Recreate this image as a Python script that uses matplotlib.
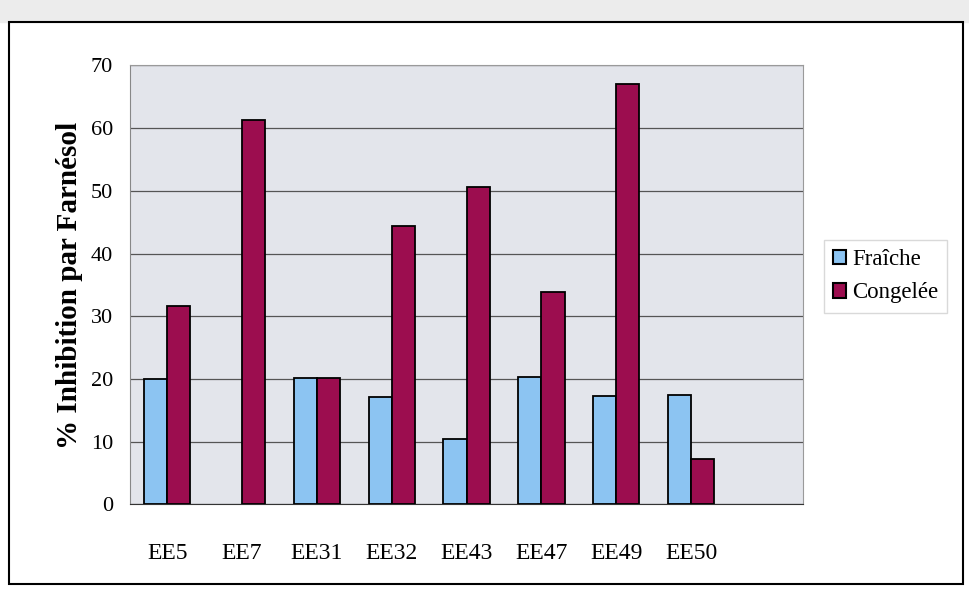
import numpy as np
import matplotlib.pyplot as plt
from matplotlib.patches import Rectangle

# Souches testées (la dernière case reste vide, comme dans Excel)
souches = ['EE5', 'EE7', 'EE31', 'EE32', 'EE43', 'EE47', 'EE49', 'EE50', '']
fraiche = [20.0, np.nan, 20.2, 17.1, 10.4, 20.4, 17.3, 17.5, np.nan]
congelee = [31.6, 61.3, 20.2, 44.4, 50.6, 33.9, 67.0, 7.2, np.nan]

plt.rcParams['font.family'] = ['Liberation Serif', 'DejaVu Serif']

fig = plt.figure(figsize=(9.69, 5.9), dpi=100)
ax = fig.add_axes([0.134, 0.145, 0.695, 0.744])

# bande grise en haut et cadre extérieur du graphique
fig.patches.append(Rectangle((0, 0.962), 1, 0.038, transform=fig.transFigure,
                             color='#ececec', zorder=0))
fig.patches.append(Rectangle((0.009, 0.01), 0.985, 0.952, transform=fig.transFigure,
                             fill=False, edgecolor='black', linewidth=1.5))

x = np.arange(len(souches))
w = 0.31
ax.bar(x - w / 2, fraiche, w, color='#8cc4f2', edgecolor='black', linewidth=1.3,
       label='Fraîche', zorder=3)
ax.bar(x + w / 2, congelee, w, color='#9c0d4f', edgecolor='black', linewidth=1.3,
       label='Congelée', zorder=3)

ax.set_facecolor('#e3e5eb')
ax.set_xlim(-0.5, len(souches) - 0.5)
ax.set_ylim(0, 70)
ax.set_yticks(range(0, 71, 10))
ax.set_xticks(x)
ax.set_xticklabels(souches, fontsize=17)
ax.tick_params(axis='both', length=0)
ax.tick_params(axis='y', pad=12, labelsize=16)
ax.tick_params(axis='x', pad=28)
ax.grid(axis='y', color='#555555', linewidth=0.9, zorder=1)
for side in ['top', 'right']:
    ax.spines[side].set_color('#9a9a9a')
    ax.spines[side].set_linewidth(0.8)
ax.spines['left'].set_color('#888888')
ax.spines['bottom'].set_color('#333333')

ax.set_ylabel('% Inhibition par Farnésol', fontsize=21, fontweight='bold', labelpad=6)

leg = ax.legend(loc='center left', bbox_to_anchor=(1.03, 0.52),
                prop={'size': 16.5}, frameon=True, fancybox=False,
                edgecolor='#d0d0d0', handlelength=0.6, handleheight=0.6,
                handletextpad=0.25, labelspacing=0.55, borderpad=0.4,
                borderaxespad=0)
for h in leg.legend_handles:
    h.set_linewidth(1.5)

fig.savefig('out.png', dpi=100)
